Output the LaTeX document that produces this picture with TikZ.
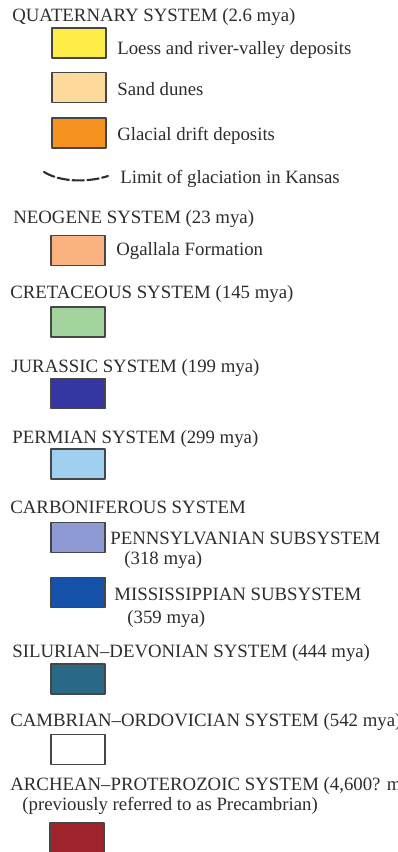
\documentclass[tikz,border=0pt]{standalone}
\usepackage{fontspec}
\setmainfont{Liberation Serif}
\usepackage{xcolor}
\usetikzlibrary{positioning}
\definecolor{inkgray}{RGB}{45,45,45}
\definecolor{edgegray}{RGB}{70,70,70}
\definecolor{loess}{RGB}{255,236,72}
\definecolor{dunes}{RGB}{253,217,156}
\definecolor{drift}{RGB}{246,146,32}
\definecolor{ogallala}{RGB}{249,178,128}
\definecolor{cretac}{RGB}{163,211,156}
\definecolor{jurass}{RGB}{54,54,162}
\definecolor{permian}{RGB}{160,208,240}
\definecolor{pennsyl}{RGB}{142,154,212}
\definecolor{mississ}{RGB}{22,82,170}
\definecolor{siludev}{RGB}{42,104,136}
\definecolor{archean}{RGB}{160,36,44}
\tikzset{
  legbox/.style={rectangle, draw=edgegray, line width=0.8pt, minimum width=1.08cm, minimum height=0.6cm, inner sep=0pt},
  lbl/.style={anchor=base west, inner sep=0pt, text=inkgray, font=\fontsize{10.7pt}{8.5pt}\selectfont},
  every picture/.style={line cap=round, line join=round}
}
\begin{document}
\begin{tikzpicture}[x=0.02cm, y=-0.02cm]
    \useasboundingbox (0,0) rectangle (398,852);
    \clip (0,0) rectangle (398,852);
    \fill[white] (0,0) rectangle (398,852);

    % Quaternary
    \node[lbl] (quat) at (12,21) {QUATERNARY SYSTEM (2.6 mya)};
    \node[legbox, fill=loess] (b1) at (79,43) {};
    \node[lbl] (t1) at (117,54) {Loess and river-valley deposits};
    \node[legbox, fill=dunes] (b2) at (79,87.5) {};
    \node[lbl] (t2) at (117,95) {Sand dunes};
    \node[legbox, fill=drift] (b3) at (79,133) {};
    \node[lbl] (t3) at (117,140) {Glacial drift deposits};
    \coordinate (lim1) at (44,172);
    \coordinate (lim2) at (108,176);
    \draw[inkgray, line width=1.2pt, dash pattern=on 6.5pt off 2pt] (lim1) .. controls (62,183) and (90,182) .. (lim2);
    \node[lbl] (t4) at (120,183) {Limit of glaciation in Kansas};

    % Neogene
    \node[lbl] (neog) at (13,223) {NEOGENE SYSTEM (23 mya)};
    \node[legbox, fill=ogallala] (b5) at (78,250.5) {};
    \node[lbl] (t5) at (116,255) {Ogallala Formation};

    \node[lbl] (cret) at (10,298) {CRETACEOUS SYSTEM (145 mya)};
    \node[legbox, fill=cretac] (b6) at (78,322) {};

    \node[lbl] (jura) at (11,372) {JURASSIC SYSTEM (199 mya)};
    \node[legbox, fill=jurass] (b7) at (78,393.5) {};

    \node[lbl] (perm) at (12,443) {PERMIAN SYSTEM (299 mya)};
    \node[legbox, fill=permian] (b8) at (78,464) {};

    % Carboniferous
    \node[lbl] (carb) at (10,513) {CARBONIFEROUS SYSTEM};
    \node[legbox, fill=pennsyl] (b9) at (78,537.5) {};
    \node[lbl] (t9) at (110,544) {PENNSYLVANIAN SUBSYSTEM};
    \node[lbl] (t9a) at (124,564) {(318 mya)};
    \node[legbox, fill=mississ] (b10) at (78,592.5) {};
    \node[lbl] (t10) at (114,600) {MISSISSIPPIAN SUBSYSTEM};
    \node[lbl] (t10a) at (127,623) {(359 mya)};

    \node[lbl] (silu) at (12,657) {SILURIAN–DEVONIAN SYSTEM (444 mya)};
    \node[legbox, fill=siludev] (b11) at (78,679) {};

    \node[lbl] (camb) at (10,726) {CAMBRIAN–ORDOVICIAN SYSTEM (542 mya)};
    \node[legbox, fill=white] (b12) at (78,749.5) {};

    \node[lbl, align=left] (arch) at (10,810) {ARCHEAN–PROTEROZOIC SYSTEM (4,600? mya)\\\hspace*{0.24cm}(previously referred to as Precambrian)};
    \node[legbox, fill=archean] (b13) at (77,838) {};
  \end{tikzpicture}
\end{document}
